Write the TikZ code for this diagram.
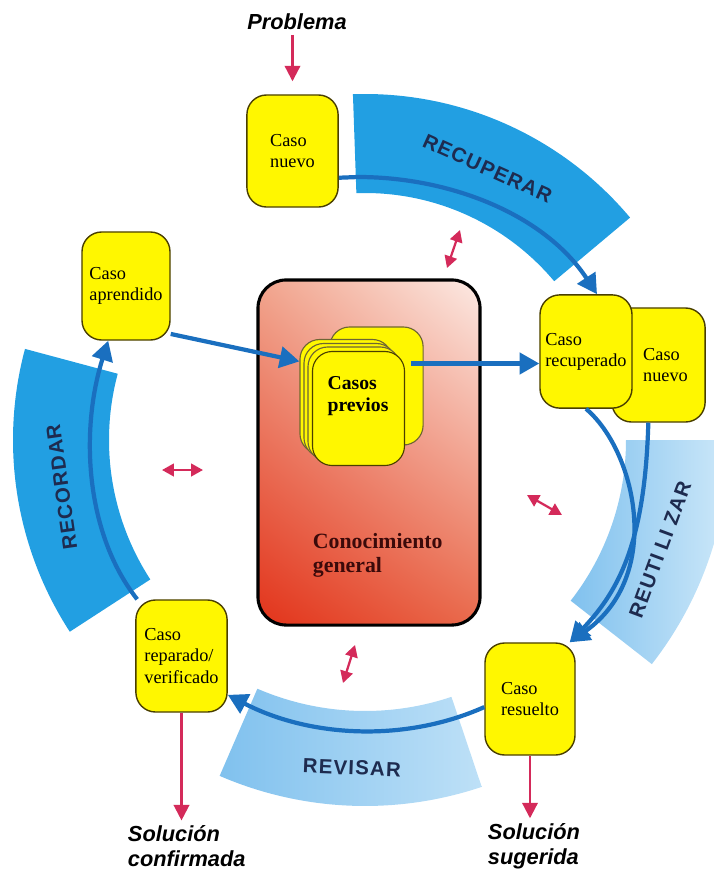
\documentclass[tikz,border=0pt]{standalone}
\usepackage{fontspec}
\setmainfont{Liberation Serif}
\setsansfont{Liberation Sans}
\usetikzlibrary{arrows.meta,calc,shadings}
\definecolor{cbyellow}{HTML}{FFF700}
\definecolor{cbedge}{HTML}{4A3F00}
\definecolor{cbband}{HTML}{229FE2}
\definecolor{cbskyA}{HTML}{80C1EE}
\definecolor{cbskyB}{HTML}{CDE8F9}
\definecolor{cbflow}{HTML}{1A6FBF}
\definecolor{cbred}{HTML}{D42A5A}
\definecolor{cbnavy}{HTML}{1E2B4F}
\definecolor{cbmaroon}{HTML}{3B0A0A}
\definecolor{cbsalmonUL}{HTML}{F1A58E}
\definecolor{cbsalmonUR}{HTML}{FCEAE4}
\definecolor{cbsalmonLL}{HTML}{E2331A}
\definecolor{cbsalmonLR}{HTML}{E96A4C}

\begin{document}
\begin{tikzpicture}[x=0.025cm,y=0.025cm,
  casebox/.style={draw=cbedge,line width=1pt,fill=cbyellow,rounded corners=14pt,
    minimum width=2.28cm,minimum height=2.8cm,align=left,inner sep=2pt,
    font=\fontsize{13}{15}\selectfont},
  card/.style={draw=cbedge!80,line width=0.8pt,fill=cbyellow,rounded corners=14pt,
    minimum width=2.3cm,minimum height=2.85cm},
  bandtext/.style={text=cbnavy,
    font=\sffamily\bfseries\fontsize{14.5}{16}\selectfont\addfontfeature{LetterSpace=6}},
  flow/.style={draw=cbflow,line width=3pt,-{Triangle[length=14pt,width=15pt]}},
  redflow/.style={draw=cbred,line width=1.6pt,-{Triangle[length=11pt,width=11pt]}},
  twoway/.style={draw=cbred,line width=1.6pt,
    {Triangle[length=8.5pt,width=9pt]}-{Triangle[length=8.5pt,width=9pt]}},
  outlabel/.style={font=\sffamily\bfseries\itshape\fontsize{15.5}{17.8}\selectfont,align=left}]

  \useasboundingbox (0,0) rectangle (713,-870);
  \coordinate (ctr) at (365,-440);

  % ---- Cycle bands ---------------------------------------------
  % RECUPERAR
  \fill[cbband] ([shift={(92:346)}]ctr) arc[start angle=92,end angle=40,radius=346]
    -- ([shift={(40:247)}]ctr) arc[start angle=40,end angle=92,radius=247] -- cycle;
  \node[bandtext,rotate=-24.3] (recuperar) at ([shift={(65.7:298)}]ctr) {RECUPERAR};
  % REUTILIZAR
  \shade[left color=cbskyA,right color=cbskyB]
    ([shift={(0:364)}]ctr) arc[start angle=0,end angle=-38,radius=364]
    -- ([shift={(-38:261)}]ctr) arc[start angle=-38,end angle=0,radius=261] -- cycle;
  \node[bandtext,rotate=69.6] (reutilizar) at ([shift={(-20.4:315)}]ctr) {REUTI LI ZAR};
  % REVISAR
  \shade[left color=cbskyA,right color=cbskyB!80!cbskyA]
    ([shift={(246.6:366)}]ctr) arc[start angle=246.6,end angle=288.6,radius=366]
    -- ([shift={(288.6:271)}]ctr) arc[start angle=288.6,end angle=246.6,radius=271] -- cycle;
  \node[bandtext,rotate=-2.3] (revisar) at ([shift={(267.7:328)}]ctr) {REVISAR};
  % RECORDAR
  \fill[cbband] ([shift={(165:352)}]ctr) arc[start angle=165,end angle=213,radius=352]
    -- ([shift={(213:256)}]ctr) arc[start angle=213,end angle=165,radius=256] -- cycle;
  \node[bandtext,rotate=98] (recordar) at ([shift={(188.8:307)}]ctr) {RECORDAR};

  % ---- General knowledge and previous cases --------------------
  \node[draw=black,line width=2.2pt,rounded corners=20pt,
        minimum width=5.55cm,minimum height=8.625cm,
        upper left=cbsalmonUL,upper right=cbsalmonUR,
        lower left=cbsalmonLL,lower right=cbsalmonLR]
    (saber) at (369,-452.5) {};
  \node[anchor=west,text=cbmaroon,align=left,
        font=\bfseries\fontsize{15.5}{17}\selectfont]
    (saberlabel) at (308,-555) {Conocimiento\\general};

  \node[card,minimum width=2.33cm,minimum height=2.95cm] (back) at (376.5,-386) {};
  \node[card] (cardA) at (346,-396.5) {};
  \node[card] (cardB) at (350,-400.5) {};
  \node[card] (cardC) at (354,-404) {};
  \node[card,draw=cbedge] (front) at (358.5,-408.5) {};
  \node[align=left,font=\bfseries\fontsize{14}{15.6}\selectfont]
    (previos) at (358,-396) {Casos\\previos};

  % ---- Cases ---------------------------------------------------
  \node[casebox] (nuevo) at (292.5,-151) {Caso\\nuevo};
  \node[casebox,minimum width=2.2cm,minimum height=2.7cm] (aprendido) at (126,-286) {Caso\\aprendido};
  \node[casebox] (reparado) at (181.5,-656) {Caso\\reparado/\\verificado};
  \node[casebox,minimum width=2.25cm] (resuelto) at (530,-699) {Caso\\resuelto};
  \node[casebox,minimum width=2.33cm,minimum height=2.85cm] (nuevo2) at (658.5,-365) {\hspace*{10pt}Caso\\\hspace*{10pt}nuevo};
  \node[casebox,minimum width=2.3cm,minimum height=2.83cm] (recuperado) at (586,-351.5) {Caso\\recuperado};

  % ---- Cycle connectors ----------------------------------------
  \draw[flow] (nuevo.-30) -- (358,-177) .. controls (451,-177) and (545,-215)
    .. ($(recuperado.north)+(11,0)$);
  \draw[flow] ($(front.east)+(6,45)$) coordinate (p) -- (p -| recuperado.west);
  \draw[flow] (aprendido.-47) -- (cardA.143);
  \draw[flow] (recuperado.south) .. controls (635,-450) and (665,-575) .. (resuelto.55);
  \draw[flow] (nuevo2.-100) .. controls (645,-540) and (620,-590) .. (resuelto.55);
  \draw[flow] (resuelto.190) .. controls (404,-743) and (309,-737) .. (reparado.-40);
  \draw[flow] (reparado.128) .. controls (85,-533) and (80,-430) .. (aprendido.-108);

  % ---- Inputs and outputs --------------------------------------
  \node[outlabel] (problema) at (297,-22) {Problema};
  \node[outlabel,anchor=west] (confirmada) at (123,-846) {Solución\\confirmada};
  \node[outlabel,anchor=west] (sugerida) at (483,-846) {Solución\\sugerida};
  \draw[redflow] (problema.south -| nuevo.north) -- ([shift={(0,13)}]nuevo.north);
  \draw[redflow] (reparado.south) -- (reparado.south |- confirmada.north);
  \draw[redflow] (resuelto.south) -- (resuelto.south |- sugerida.north);

  % ---- Exchanges with general knowledge ------------------------
  \coordinate (xa1) at (447,-268); \coordinate (xa2) at (460,-230);
  \coordinate (xb1) at (162,-470); \coordinate (xb2) at (203,-470);
  \coordinate (xc1) at (527,-495); \coordinate (xc2) at (562,-515);
  \coordinate (xd1) at (355,-645); \coordinate (xd2) at (343,-683);
  \draw[twoway] (xa1) -- (xa2);
  \draw[twoway] (xb1) -- (xb2);
  \draw[twoway] (xc1) -- (xc2);
  \draw[twoway] (xd1) -- (xd2);

\end{tikzpicture}
\end{document}
